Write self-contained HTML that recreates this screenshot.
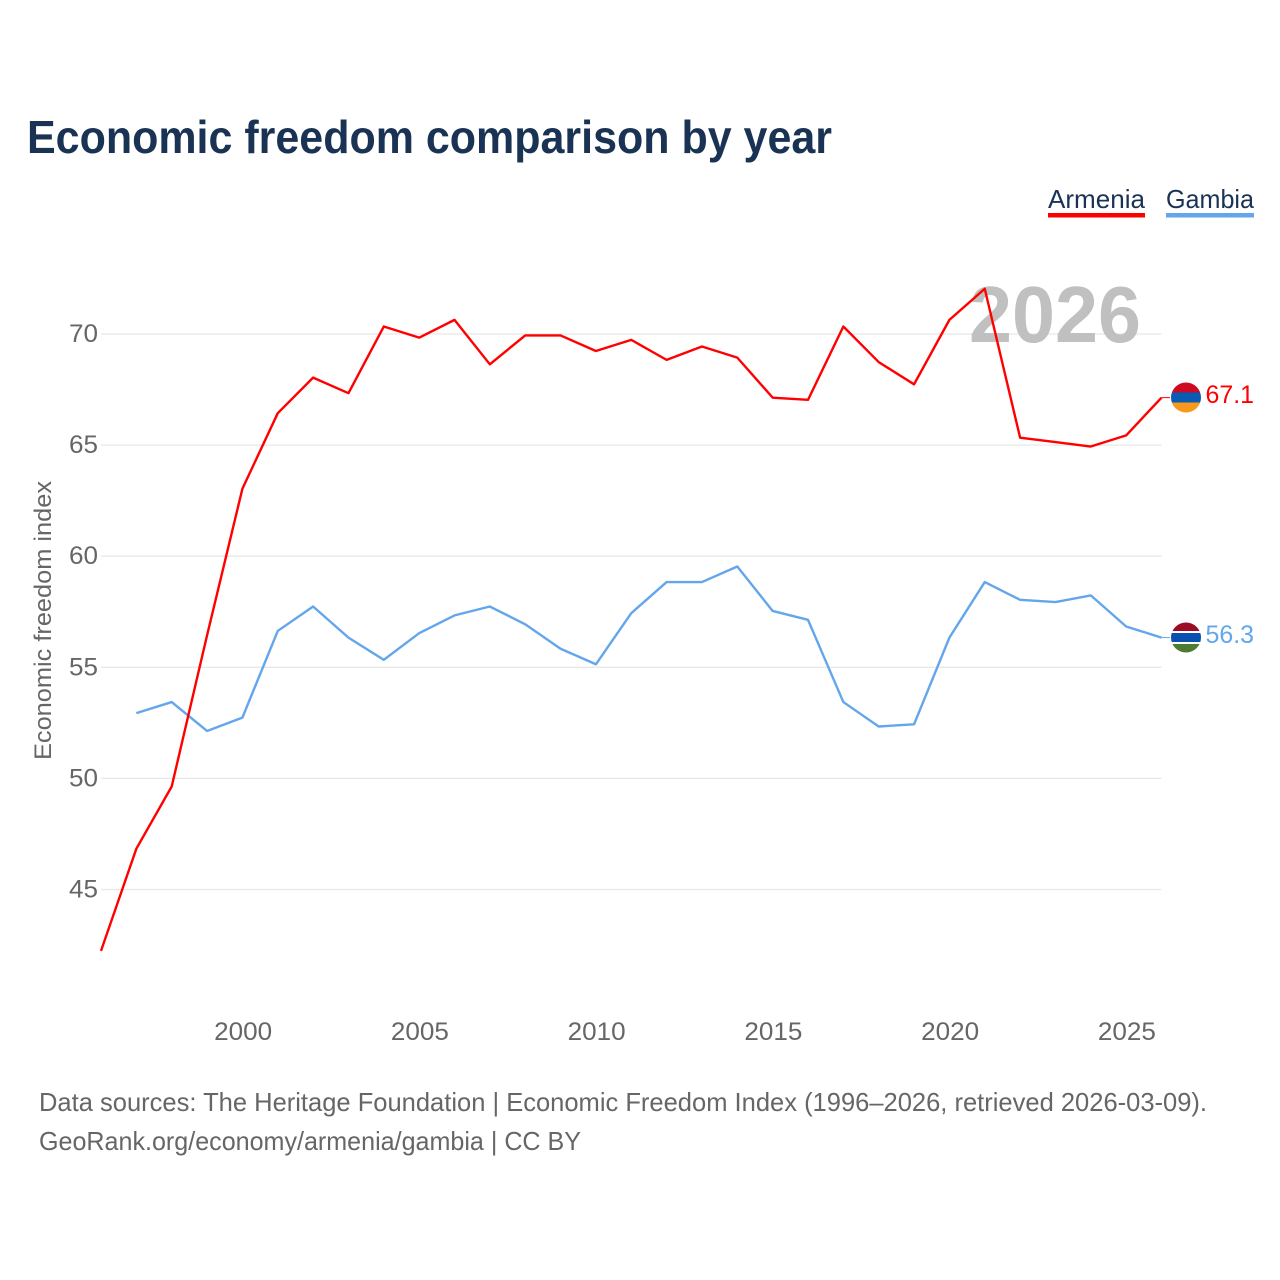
<!DOCTYPE html>
<html lang="en">
<head>
<meta charset="utf-8">
<title>Economic freedom comparison by year</title>
<style>
html,body{margin:0;padding:0;background:#fff;width:1280px;height:1280px;overflow:hidden}
svg{display:block}
text{font-family:"Liberation Sans",sans-serif}
</style>
</head>
<body>
<svg id="chart" width="1280" height="1280" viewBox="0 0 1280 1280" xmlns="http://www.w3.org/2000/svg">
  <defs>
    <clipPath id="clip-am"><circle cx="1186" cy="397.5" r="15"/></clipPath>
    <clipPath id="clip-gm"><circle cx="1186" cy="637.5" r="15"/></clipPath>
  </defs>
  <rect x="0" y="0" width="1280" height="1280" fill="#fff"/>
  <text x="27" y="153" font-size="46" font-weight="700" fill="#1a3354" textLength="805" lengthAdjust="spacingAndGlyphs">Economic freedom comparison by year</text>

  <g>
    <g>
      <text x="1048" y="208" font-size="26" fill="#1a3354" textLength="97" lengthAdjust="spacingAndGlyphs">Armenia</text>
      <rect x="1048" y="213" width="97" height="4.5" fill="#ff0000"/>
    </g>
    <g>
      <text x="1166" y="208" font-size="26" fill="#1a3354" textLength="88" lengthAdjust="spacingAndGlyphs">Gambia</text>
      <rect x="1166" y="213" width="88" height="4.5" fill="#63a6eb"/>
    </g>
  </g>

  <g id="grid"></g>
  <text x="969" y="342" font-size="80" font-weight="700" fill="#c0c0c0" textLength="172" lengthAdjust="spacingAndGlyphs">2026</text>
  <g id="y-ticks"></g>
  <g id="x-ticks"></g>
  <text transform="translate(51,760) rotate(-90)" x="0" y="0" font-size="24" fill="#666" textLength="279" lengthAdjust="spacingAndGlyphs">Economic freedom index</text>

  <g id="series" transform="translate(0,-0.8)"></g>

  <circle cx="1186" cy="397.5" r="16" fill="#fff"/>
  <g clip-path="url(#clip-am)">
    <rect x="1171" y="382" width="30" height="10.5" fill="#cc0a24"/>
    <rect x="1171" y="392.5" width="30" height="10" fill="#0a5bb4"/>
    <rect x="1171" y="402.5" width="30" height="10.5" fill="#f9991c"/>
  </g>
  <text id="label-armenia" x="1205.5" y="403" font-size="25" fill="#ff0000" textLength="48.5" lengthAdjust="spacingAndGlyphs"></text>

  <circle cx="1186" cy="637.5" r="16" fill="#fff"/>
  <g clip-path="url(#clip-gm)">
    <rect x="1171" y="622" width="30" height="10.5" fill="#9c0a25"/>
    <rect x="1171" y="631" width="30" height="2" fill="#ffffff"/>
    <rect x="1171" y="633" width="30" height="9" fill="#0a50b0"/>
    <rect x="1171" y="642" width="30" height="2" fill="#ffffff"/>
    <rect x="1171" y="644" width="30" height="10" fill="#4f7a32"/>
  </g>
  <text id="label-gambia" x="1205.5" y="643" font-size="25" fill="#63a6eb" textLength="48.5" lengthAdjust="spacingAndGlyphs"></text>

  <text x="39" y="1111" font-size="26" fill="#666" textLength="1168" lengthAdjust="spacingAndGlyphs">Data sources: The Heritage Foundation | Economic Freedom Index (1996–2026, retrieved 2026-03-09).</text>
  <text x="39" y="1150" font-size="26" fill="#666" textLength="542" lengthAdjust="spacingAndGlyphs">GeoRank.org/economy/armenia/gambia | CC BY</text>
</svg>
<script>
var years = [1996,1997,1998,1999,2000,2001,2002,2003,2004,2005,2006,2007,2008,2009,2010,2011,2012,2013,2014,2015,2016,2017,2018,2019,2020,2021,2022,2023,2024,2025,2026];
var armenia = [42.2,46.8,49.6,56.4,63.0,66.4,68.0,67.3,70.3,69.8,70.6,68.6,69.9,69.9,69.2,69.7,68.8,69.4,68.9,67.1,67.0,70.3,68.7,67.7,70.6,72.0,65.3,65.1,64.9,65.4,67.1];
var gambia = [null,52.9,53.4,52.1,52.7,56.6,57.7,56.3,55.3,56.5,57.3,57.7,56.9,55.8,55.1,57.4,58.8,58.8,59.5,57.5,57.1,53.4,52.3,52.4,56.3,58.8,58.0,57.9,58.2,56.8,56.3];
var yTickValues = [45,50,55,60,65,70];
var xTickValues = [2000,2005,2010,2015,2020,2025];

var NS = 'http://www.w3.org/2000/svg';
function xScale(year){ return 101 + (year - 1996) * (1060.5 / 30); }
function yScale(value){ return 889.5 - (value - 45) * (555.5 / 25); }
function make(tag, attrs, parent){
  var el = document.createElementNS(NS, tag);
  for (var k in attrs) el.setAttribute(k, attrs[k]);
  parent.appendChild(el);
  return el;
}
var gridG = document.getElementById('grid');
var yG = document.getElementById('y-ticks');
var xG = document.getElementById('x-ticks');
var seriesG = document.getElementById('series');

yTickValues.forEach(function(v){
  var line = make('line', {x1:101, x2:1161.5, y1:yScale(v), y2:yScale(v), stroke:'#e8e8e8', 'stroke-width':1.3}, gridG);
  
  
  var t = make('text', {x:98, y:yScale(v) + 8, 'text-anchor':'end', 'font-size':25, fill:'#666', textLength:29, lengthAdjust:'spacingAndGlyphs'}, yG);
  
  
  t.textContent = v;
});
xTickValues.forEach(function(v){
  var t = make('text', {x:xScale(v) + 0.8, y:1040, 'text-anchor':'middle', 'font-size':25, fill:'#666', textLength:58, lengthAdjust:'spacingAndGlyphs'}, xG);
  
  
  t.textContent = v;
});
function buildPath(vals){
  var d = '';
  vals.forEach(function(v, i){
    if (v === null) return;
    d += (d === '' ? 'M' : 'L') + xScale(years[i]).toFixed(2) + ' ' + yScale(v).toFixed(2);
  });
  return d;
}
var lastA = armenia[armenia.length - 1];
var lastG = gambia[gambia.length - 1];
document.getElementById('label-armenia').textContent = lastA.toFixed(1);
document.getElementById('label-gambia').textContent = lastG.toFixed(1);
var leadA = make('line', {x1:xScale(2026), x2:1172, y1:yScale(lastA), y2:yScale(lastA), stroke:'#ff0000', 'stroke-width':1}, seriesG);


var leadG = make('line', {x1:xScale(2026), x2:1172, y1:yScale(lastG), y2:yScale(lastG), stroke:'#63a6eb', 'stroke-width':1}, seriesG);


var gambiaPath = make('path', {d:buildPath(gambia), fill:'none', stroke:'#63a6eb', 'stroke-width':2.4, 'stroke-linejoin':'round'}, seriesG);


var armeniaPath = make('path', {d:buildPath(armenia), fill:'none', stroke:'#ff0000', 'stroke-width':2.4, 'stroke-linejoin':'round'}, seriesG);


</script>
</body>
</html>
